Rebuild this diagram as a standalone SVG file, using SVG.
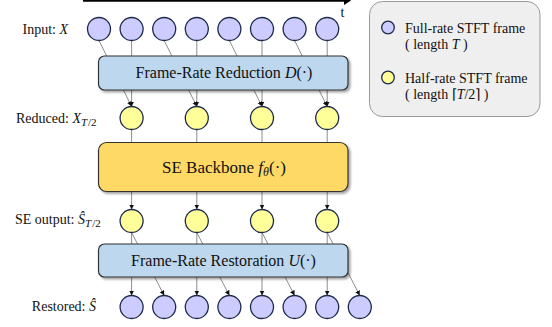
<svg xmlns="http://www.w3.org/2000/svg" width="552" height="327" viewBox="0 0 552 327">
<style>
text{font-family:"Liberation Serif","Times New Roman",serif;fill:#111}
.lbl{font-size:14px}
.box{font-size:16px}
.big{font-size:17px}
.it{font-style:italic}
.sub{font-size:11px}
.full{fill:#ccccff;stroke:#1e2a4a;stroke-width:1.3}
.half{fill:#ffff99;stroke:#1e2a4a;stroke-width:1.3}
.con{stroke:#707070;stroke-width:0.8;fill:none}
.blue{fill:#bdd7ee;stroke:#333;stroke-width:1.2}
.gold{fill:#ffd966;stroke:#333;stroke-width:1.2}
</style>
<defs>
<marker id="ah" markerUnits="userSpaceOnUse" markerWidth="6" markerHeight="6" refX="5" refY="2.5" orient="auto">
<path d="M0,0 L5,2.5 L0,5 z" fill="#111"/>
</marker>
<filter id="sh" x="-10%" y="-10%" width="130%" height="140%">
<feDropShadow dx="2" dy="2" stdDeviation="1" flood-color="#000" flood-opacity="0.35"/>
</filter>
</defs>

<g id="time-axis">
<line x1="83" y1="0.5" x2="345" y2="0.5" stroke="#000" stroke-width="2.5"/>
<polygon points="344,-4 351,0.5 344,5" fill="#000"/>
<text class="lbl" x="342.5" y="17" text-anchor="middle">t</text>
</g>

<g id="connectors">
<line class="con" x1="99" y1="40.5" x2="131.6" y2="106.5" marker-end="url(#ah)"/>
<line class="con" x1="131.6" y1="40.5" x2="131.6" y2="106.5" marker-end="url(#ah)"/>
<line class="con" x1="164.2" y1="40.5" x2="196.8" y2="106.5" marker-end="url(#ah)"/>
<line class="con" x1="196.8" y1="40.5" x2="196.8" y2="106.5" marker-end="url(#ah)"/>
<line class="con" x1="229.4" y1="40.5" x2="262" y2="106.5" marker-end="url(#ah)"/>
<line class="con" x1="262" y1="40.5" x2="262" y2="106.5" marker-end="url(#ah)"/>
<line class="con" x1="294.6" y1="40.5" x2="327.2" y2="106.5" marker-end="url(#ah)"/>
<line class="con" x1="327.2" y1="40.5" x2="327.2" y2="106.5" marker-end="url(#ah)"/>

<line class="con" x1="131.6" y1="129.5" x2="131.6" y2="209.5" marker-end="url(#ah)"/>
<line class="con" x1="196.8" y1="129.5" x2="196.8" y2="209.5" marker-end="url(#ah)"/>
<line class="con" x1="262" y1="129.5" x2="262" y2="209.5" marker-end="url(#ah)"/>
<line class="con" x1="327.2" y1="129.5" x2="327.2" y2="209.5" marker-end="url(#ah)"/>

<line class="con" x1="131.6" y1="232.5" x2="131.6" y2="295.5" marker-end="url(#ah)"/>
<line class="con" x1="131.6" y1="232.5" x2="164.2" y2="295.5" marker-end="url(#ah)"/>
<line class="con" x1="196.8" y1="232.5" x2="196.8" y2="295.5" marker-end="url(#ah)"/>
<line class="con" x1="196.8" y1="232.5" x2="229.4" y2="295.5" marker-end="url(#ah)"/>
<line class="con" x1="262" y1="232.5" x2="262" y2="295.5" marker-end="url(#ah)"/>
<line class="con" x1="262" y1="232.5" x2="294.6" y2="295.5" marker-end="url(#ah)"/>
<line class="con" x1="327.2" y1="232.5" x2="327.2" y2="295.5" marker-end="url(#ah)"/>
<line class="con" x1="327.2" y1="232.5" x2="359.8" y2="295.5" marker-end="url(#ah)"/>
</g>

<g id="labels">
<text class="lbl" x="68" y="33.5" text-anchor="end">Input: <tspan class="it">X</tspan></text>
<text class="lbl" x="16" y="122.5">Reduced: <tspan class="it">X</tspan><tspan class="it sub" dy="3">T</tspan><tspan class="sub" dx="1">/2</tspan></text>
<text class="lbl" x="15" y="223.5">SE output: <tspan class="it">Ŝ</tspan><tspan class="it sub" dy="3">T</tspan><tspan class="sub" dx="1">/2</tspan></text>
<text class="lbl" x="96" y="310.5" text-anchor="end">Restored: <tspan class="it">Ŝ</tspan></text>
</g>

<g id="input-frames">
<g id="in1"><circle class="full" cx="99" cy="29" r="11.5"/></g>
<g id="in2"><circle class="full" cx="131.6" cy="29" r="11.5"/></g>
<g id="in3"><circle class="full" cx="164.2" cy="29" r="11.5"/></g>
<g id="in4"><circle class="full" cx="196.8" cy="29" r="11.5"/></g>
<g id="in5"><circle class="full" cx="229.4" cy="29" r="11.5"/></g>
<g id="in6"><circle class="full" cx="262" cy="29" r="11.5"/></g>
<g id="in7"><circle class="full" cx="294.6" cy="29" r="11.5"/></g>
<g id="in8"><circle class="full" cx="327.2" cy="29" r="11.5"/></g>
</g>

<g id="reduction">
<rect class="blue" x="98.5" y="56" width="249.5" height="34" rx="6" filter="url(#sh)"/>
<text class="box" x="224" y="78" text-anchor="middle">Frame-Rate Reduction <tspan class="it">D</tspan>(·)</text>
</g>

<g id="reduced-frames">
<g id="rd1"><circle class="half" cx="131.6" cy="118" r="11.5"/></g>
<g id="rd2"><circle class="half" cx="196.8" cy="118" r="11.5"/></g>
<g id="rd3"><circle class="half" cx="262" cy="118" r="11.5"/></g>
<g id="rd4"><circle class="half" cx="327.2" cy="118" r="11.5"/></g>
</g>

<g id="backbone">
<rect class="gold" x="98.5" y="142.5" width="249.5" height="49" rx="8" filter="url(#sh)"/>
<text class="big" x="224" y="173" text-anchor="middle">SE Backbone <tspan class="it">f</tspan><tspan class="it" font-size="12" dy="3">θ</tspan><tspan dy="-3">(·)</tspan></text>
</g>

<g id="se-frames">
<g id="se1"><circle class="half" cx="131.6" cy="221" r="11.5"/></g>
<g id="se2"><circle class="half" cx="196.8" cy="221" r="11.5"/></g>
<g id="se3"><circle class="half" cx="262" cy="221" r="11.5"/></g>
<g id="se4"><circle class="half" cx="327.2" cy="221" r="11.5"/></g>
</g>

<g id="restoration">
<rect class="blue" x="98.5" y="244" width="249.5" height="33" rx="6" filter="url(#sh)"/>
<text class="box" x="223.5" y="266" text-anchor="middle">Frame-Rate Restoration <tspan class="it">U</tspan>(·)</text>
</g>

<g id="restored-frames">
<g id="rs1"><circle class="full" cx="131.6" cy="307" r="11.5"/></g>
<g id="rs2"><circle class="full" cx="164.2" cy="307" r="11.5"/></g>
<g id="rs3"><circle class="full" cx="196.8" cy="307" r="11.5"/></g>
<g id="rs4"><circle class="full" cx="229.4" cy="307" r="11.5"/></g>
<g id="rs5"><circle class="full" cx="262" cy="307" r="11.5"/></g>
<g id="rs6"><circle class="full" cx="294.6" cy="307" r="11.5"/></g>
<g id="rs7"><circle class="full" cx="327.2" cy="307" r="11.5"/></g>
<g id="rs8"><circle class="full" cx="359.8" cy="307" r="11.5"/></g>
</g>

<g id="legend">
<rect x="369.5" y="1.5" width="170.5" height="115" rx="13" fill="#efefef" stroke="#999" stroke-width="1"/>
<circle class="full" cx="388" cy="27.5" r="6.3" stroke-width="1"/>
<text class="lbl" x="405" y="32.5">Full-rate STFT frame</text>
<text class="lbl" x="405" y="48.5">( length <tspan class="it">T</tspan> )</text>
<circle class="half" cx="388" cy="77.5" r="6.3" stroke-width="1"/>
<text class="lbl" x="405" y="82.5">Half-rate STFT frame</text>
<text class="lbl" x="405" y="99">( length ⌈<tspan class="it">T</tspan>/2⌉ )</text>
</g>
</svg>
